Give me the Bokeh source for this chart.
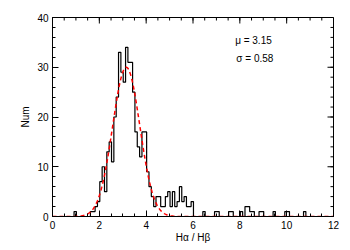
from bokeh.plotting import figure
from bokeh.models import Range1d, FixedTicker, Label
from bokeh.embed import file_html
from bokeh.resources import INLINE
import numpy as np

# Histogram of Halpha/Hbeta ratios: bins of width 0.1 starting at 0.92
bin_start = 0.92
bin_width = 0.1
counts = [1, 0, 0, 0, 0, 0, 0, 1, 1, 2,
          3, 7, 10, 5, 13, 15, 11, 20, 24, 33,
          29, 27, 34, 31, 31, 25, 17, 14, 12, 17,
          17, 9, 6, 4, 2, 4, 4, 2, 2, 4,
          5, 2, 5, 2, 3, 6, 3, 4, 2, 2,
          3, 0, 0, 0, 0, 1, 0, 0, 0, 0,
          1, 1, 0, 0, 0, 0, 1, 1, 0, 0,
          0, 1, 0, 2, 2, 1, 1, 0, 0, 1,
          1, 0, 0, 0, 0, 1, 0, 0, 0, 0,
          1, 1, 0, 0, 0, 0, 0, 0, 1, 0]

# Gaussian fit parameters
mu = 3.15
sigma = 0.58
amp = 30.0

x_ticks = [0, 2, 4, 6, 8, 10, 12]
x_minor = [i * 0.5 for i in range(25)]
y_ticks = [0, 10, 20, 30, 40]
y_minor = list(range(0, 41, 2))

FONT = "Liberation Sans"
FRAME_W = 281
FRAME_H = 199
X0, X1 = 0, 12
Y0, Y1 = 0, 40

p = figure(width=342, height=246, x_range=Range1d(X0, X1), y_range=Range1d(Y0, Y1),
           output_backend="svg", toolbar_location=None,
           min_border_left=52, min_border_right=9, min_border_top=17, min_border_bottom=30)
p.xgrid.grid_line_color = None
p.ygrid.grid_line_color = None
p.outline_line_color = "black"
p.background_fill_color = "white"
p.border_fill_color = "white"

# histogram step outline
edges = bin_start + bin_width * np.arange(len(counts) + 1)
hx = [edges[0]]
hy = [0]
for i, c in enumerate(counts):
    hx += [edges[i], edges[i + 1]]
    hy += [c, c]
hx.append(edges[-1])
hy.append(0)
p.line(hx, hy, line_color="black", line_width=1.2)

# Gaussian fit
xg = np.linspace(X0, X1, 481)
yg = amp * np.exp(-0.5 * ((xg - mu) / sigma) ** 2)
p.line(xg, yg, line_color="red", line_width=1.5, line_dash="4 3")

xt = FixedTicker(ticks=x_ticks, minor_ticks=x_minor)
yt = FixedTicker(ticks=y_ticks, minor_ticks=y_minor)

for ax in (p.xaxis[0], p.yaxis[0]):
    ax.major_tick_in = 6
    ax.major_tick_out = 0
    ax.minor_tick_in = 3
    ax.minor_tick_out = 0
    ax.axis_line_color = "black"
    ax.major_tick_line_color = "black"
    ax.minor_tick_line_color = "black"
    ax.major_label_text_font = FONT
    ax.major_label_text_font_size = "10px"
    ax.major_label_text_color = "black"
    ax.axis_label_text_font = FONT
    ax.axis_label_text_font_size = "10px"
    ax.axis_label_text_font_style = "normal"
    ax.axis_label_text_color = "black"
    ax.major_label_standoff = 4
p.xaxis.axis_label_standoff = 0
p.yaxis.axis_label_standoff = 3

p.xaxis.ticker = xt
p.yaxis.ticker = yt
p.xaxis.axis_label = "Hα / Hβ"
p.yaxis.axis_label = "Num"

# inward ticks on the top and right frame edges
ypx = (Y1 - Y0) / FRAME_H
xpx = (X1 - X0) / FRAME_W
tx = x_ticks + x_minor
tlen = [6 * ypx] * len(x_ticks) + [3 * ypx] * len(x_minor)
p.segment(x0=tx, y0=[Y1] * len(tx), x1=tx, y1=[Y1 - l for l in tlen],
          line_color="black", line_width=1)
ty = y_ticks + y_minor
tlen = [6 * xpx] * len(y_ticks) + [3 * xpx] * len(y_minor)
p.segment(x0=[X1] * len(ty), y0=ty, x1=[X1 - l for l in tlen], y1=ty,
          line_color="black", line_width=1)

p.add_layout(Label(x=7.8, y=35.4, text="μ = 3.15", text_font=FONT, text_font_size="10px",
                   text_baseline="middle", text_align="left", text_color="black"))
p.add_layout(Label(x=7.85, y=31.8, text="σ = 0.58", text_font=FONT, text_font_size="10px",
                   text_baseline="middle", text_align="left", text_color="black"))

open("out.html", "w").write(file_html(p, INLINE))
